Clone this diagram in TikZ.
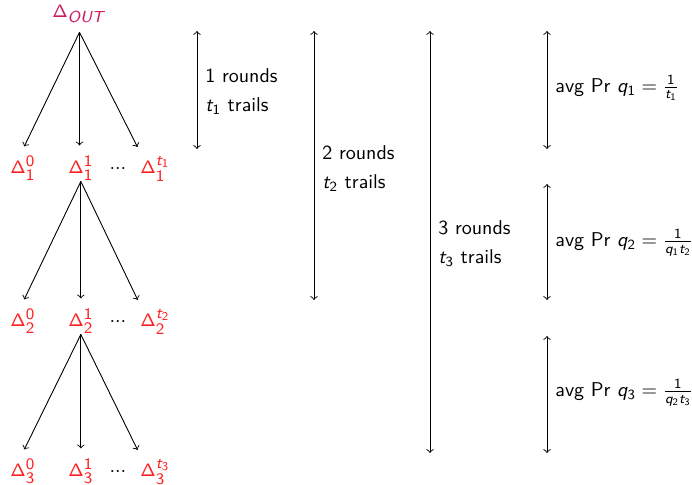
\documentclass[tikz,border=0pt]{standalone}
\renewcommand{\familydefault}{\sfdefault}
% sans-serif math, as in a slide
\DeclareSymbolFont{operators}{OT1}{cmss}{m}{n}
\SetSymbolFont{letters}{normal}{OT1}{cmss}{m}{sl}
% larger scripts for the difference labels
\DeclareMathSizes{9.5}{9.5}{7.6}{6}
\definecolor{outcol}{RGB}{204,30,100}
\definecolor{diffcol}{RGB}{255,32,32}
\newcommand{\hdots}{${\cdot}{\cdot}{\cdot}$}
\tikzset{
  difffont/.style={font=\fontsize{9.5}{11}\selectfont},
  diff/.style={difffont, inner sep=0pt, anchor=base west, text=diffcol},
  dotsnode/.style={inner sep=0pt, anchor=base},
  tree/.style={->, line width=0.45pt, shorten >=5pt},
  span/.style={<->, line width=0.45pt},
  note/.style={inner sep=0pt, anchor=west, align=left},
}
\begin{document}
\begin{tikzpicture}[x=0.5pt, y=-0.5pt]
\useasboundingbox (0,0) rectangle (692,485);

% root
\node[difffont, inner sep=0pt, anchor=base, text=outcol] (out) at (79.5,18) {$\Delta_{OUT}$};

% first level
\node[diff] (n10) at (10,174) {$\Delta_1^0$};
\node[diff] (n11) at (68,174) {$\Delta_1^1$};
\node[dotsnode] (d1) at (118,174) {\hdots};
\node[diff] (n1t) at (140,174) {$\Delta_1^{t_1}$};

% second level
\node[diff] (n20) at (10,327) {$\Delta_2^0$};
\node[diff] (n21) at (68,327) {$\Delta_2^1$};
\node[dotsnode] (d2) at (118,327) {\hdots};
\node[diff] (n2t) at (140,327) {$\Delta_2^{t_2}$};

% third level
\node[diff] (n30) at (10,477) {$\Delta_3^0$};
\node[diff] (n31) at (68,477) {$\Delta_3^1$};
\node[dotsnode] (d3) at (118,477) {\hdots};
\node[diff] (n3t) at (140,477) {$\Delta_3^{t_3}$};

% fan apexes just below the parents
\coordinate (o0) at ([yshift=-4.5pt]out.south);
\coordinate (o1) at ([yshift=-0.5pt]n11.south);
\coordinate (o2) at ([yshift=-0.5pt]n21.south);

% tree edges
\draw[tree] (o0) -- ([xshift=-1.5pt]n10.north);
\draw[tree] (o0) -- (o0 |- n11.north);
\draw[tree] (o0) -- ([xshift=1pt]n1t.north west);
\draw[tree] (o1) -- ([xshift=-1.5pt]n20.north);
\draw[tree] (o1) -- (o1 |- n21.north);
\draw[tree] (o1) -- ([xshift=1pt]n2t.north west);
\draw[tree] (o2) -- ([xshift=-1.5pt]n30.north);
\draw[tree] (o2) -- (o2 |- n31.north);
\draw[tree] (o2) -- ([xshift=1pt]n3t.north west);

% round spans
\coordinate (r1a) at (197,31);  \coordinate (r1b) at (197,149);
\coordinate (r2a) at (314,31);  \coordinate (r2b) at (314,300);
\coordinate (r3a) at (430,31);  \coordinate (r3b) at (430,453);
\draw[span] (r1a) -- (r1b);
\draw[span] (r2a) -- (r2b);
\draw[span] (r3a) -- (r3b);
\node[note] (t1) at (205,92) {1 rounds\\[2.5pt] $t_1$ trails};
\node[note] (t2) at (322,169) {2 rounds\\[2.5pt] $t_2$ trails};
\node[note] (t3) at (438,244) {3 rounds\\[2.5pt] $t_3$ trails};

% probability spans
\coordinate (p1a) at (547,31);  \coordinate (p1b) at (547,149);
\coordinate (p2a) at (547,184); \coordinate (p2b) at (547,300);
\coordinate (p3a) at (547,336); \coordinate (p3b) at (547,453);
\draw[span] (p1a) -- (p1b);
\draw[span] (p2a) -- (p2b);
\draw[span] (p3a) -- (p3b);
\node[note] (q1) at (555,88) {avg Pr $q_1 = \frac{1}{t_1}$};
\node[note] (q2) at (555,243) {avg Pr $q_2 = \frac{1}{q_1 t_2}$};
\node[note] (q3) at (555,393) {avg Pr $q_3 = \frac{1}{q_2 t_3}$};
\end{tikzpicture}
\end{document}
